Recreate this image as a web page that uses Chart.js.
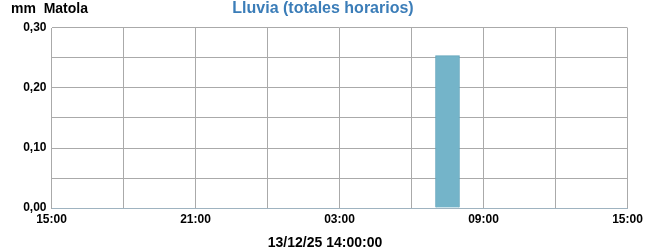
<!DOCTYPE html>
<html>
<head>
<meta charset="utf-8">
<script src="https://cdn.jsdelivr.net/npm/chart.js@4"></script>
<style>
  html, body { margin: 0; padding: 0; background: #fff; }
  #wrap { width: 650px; height: 250px; position: relative; }
</style>
</head>
<body>
<div id="wrap"><canvas id="chart"></canvas></div>
<script>
// hourly rain totals, starting 15:00 (one bar per hour)
const hours = ['15','16','17','18','19','20','21','22','23','00','01','02',
               '03','04','05','06','07','08','09','10','11','12','13','14'];
const rain = [0,0,0,0,0,0,0,0,0,0,0,0,0,0,0,0,0.254,0,0,0,0,0,0,0];
const tickLabels = ['15:00','21:00','03:00','09:00','15:00'];
const titleText = 'Lluvia (totales horarios)';
const unitText = 'mm  Matola';
const stampText = '13/12/25 14:00:00';

const font = 'Liberation Sans, Arial, sans-serif';

// draw the title, station name and timestamp
const textPlugin = {
    id: 'texts',
    afterDraw(chart) {
        const c = chart.ctx;
        c.save();
        c.textBaseline = 'middle';
        c.font = 'bold 16px ' + font;
        c.fillStyle = '#3b7db8';
        c.textAlign = 'center';
        c.fillText(titleText, 323, 9);
        c.font = 'bold 14px ' + font;
        c.fillStyle = '#000';
        c.textAlign = 'left';
        c.fillText(unitText, 11, 9);
        c.textAlign = 'center';
        c.fillText(stampText, 325, 243);
        c.restore();
    }
};

let ctx = document.getElementById('chart').getContext('2d');
let chart = new Chart(ctx, {
    type: 'bar',
    data: {
        datasets: [{
            data: rain.map(function (v, i) { return { x: i + 0.5, y: v }; }),
            backgroundColor: '#74b4c9',
            borderColor: '#5fa3bb',
            borderWidth: 1,
            barPercentage: 1,
            categoryPercentage: 1
        }]
    },
    options: {
        responsive: true,
        maintainAspectRatio: false,
        animation: false,
        layout: { padding: { top: 28, right: 22.5, bottom: 0, left: 0 } },
        plugins: { legend: { display: false }, tooltip: { enabled: false } },
        scales: {
            x: {
                type: 'linear',
                min: 0,
                max: 24,
                offset: false,
                afterBuildTicks: function (s) {
                    s.ticks = [];
                    for (let h = 0; h <= 24; h += 3) s.ticks.push({ value: h });
                },
                afterFit: function (s) { s.height = 42; },
                grid: { color: '#aaaaaa', drawTicks: false, offset: false },
                border: { color: '#9fb3c0' },
                ticks: {
                    padding: 4,
                    maxRotation: 0,
                    autoSkip: false,
                    color: '#000',
                    font: { family: font, size: 12, weight: 'bold' },
                    callback: function (v) {
                        return v % 6 === 0 ? tickLabels[v / 6] : '';
                    }
                }
            },
            y: {
                min: 0,
                max: 0.3,
                afterBuildTicks: function (s) {
                    s.ticks = [];
                    for (let k = 0; k <= 6; k++) s.ticks.push({ value: k * 0.05 });
                },
                afterFit: function (s) { s.width = 51.5; },
                grid: { color: '#aaaaaa', drawTicks: false },
                border: { color: '#aaaaaa' },
                ticks: {
                    padding: 5,
                    color: '#000',
                    font: { family: font, size: 12, weight: 'bold' },
                    callback: function (v, i) {
                        return i % 2 === 0 ? v.toFixed(2).replace('.', ',') : '';
                    }
                }
            }
        }
    },
    plugins: [textPlugin, {
        id: 'rightBorder',
        afterDatasetsDraw(chart) {
            const a = chart.chartArea, c = chart.ctx;
            c.save();
            c.strokeStyle = '#aaaaaa';
            c.lineWidth = 1;
            c.beginPath();
            c.moveTo(a.right, a.top);
            c.lineTo(a.right, a.bottom);
            c.stroke();
            c.restore();
        }
    }]
});
</script>
</body>
</html>
